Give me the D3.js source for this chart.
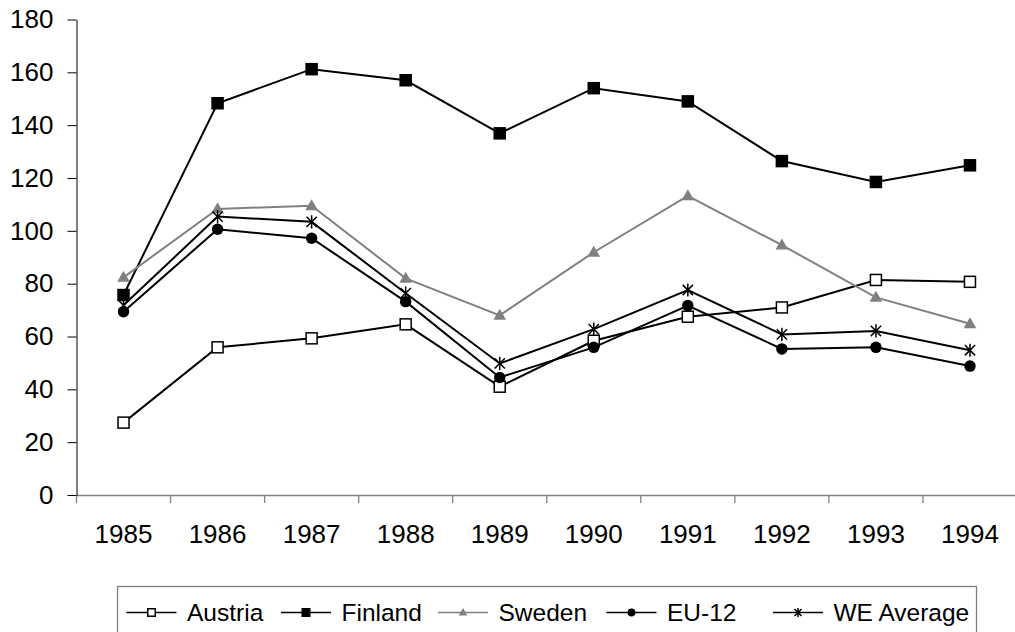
<!DOCTYPE html>
<html><head><meta charset="utf-8">
<script src="https://cdn.jsdelivr.net/npm/d3@7"></script>
<style>body{margin:0;background:#fff;} text{font-family:"Liberation Sans",Arial,sans-serif;}</style>
</head><body>
<svg id="chart" width="1015" height="632"></svg>
<script>
const years = ["1985","1986","1987","1988","1989","1990","1991","1992","1993","1994"];
const austria = [27.4, 55.9, 59.3, 64.6, 41.0, 58.4, 67.5, 71.0, 81.4, 80.7];
const finland = [75.7, 148.3, 161.2, 157.0, 136.9, 154.0, 149.0, 126.4, 118.5, 124.8];
const sweden = [82.4, 108.3, 109.5, 82.0, 68.0, 91.9, 113.2, 94.6, 74.8, 64.8];
const eu12 = [69.4, 100.6, 97.2, 73.2, 44.5, 55.9, 71.7, 55.3, 55.9, 48.8];
const weAvg = [71.8, 105.4, 103.4, 76.4, 49.8, 62.8, 77.6, 60.8, 62.1, 54.8];
const yTicks = [0, 20, 40, 60, 80, 100, 120, 140, 160, 180];
const seriesNames = ["Austria", "Finland", "Sweden", "EU-12", "WE Average"];

const series = [
  {name: seriesNames[0], values: austria, color: "#000", marker: "squareOpen"},
  {name: seriesNames[1], values: finland, color: "#000", marker: "square"},
  {name: seriesNames[2], values: sweden, color: "#808080", marker: "triangle"},
  {name: seriesNames[3], values: eu12, color: "#000", marker: "circle"},
  {name: seriesNames[4], values: weAvg, color: "#000", marker: "star"}
];

const svg = d3.select("#chart");
const x = d3.scaleBand().domain(years).range([76.5, 1017]).padding(0);
const y = d3.scaleLinear().domain([0, 180]).range([495, 19.5]);

// axes
const yAxis = svg.append("g").attr("transform", "translate(76.5,0)")
  .call(d3.axisLeft(y).tickValues(yTicks).tickSize(9).tickPadding(14).tickSizeOuter(0));
yAxis.select(".domain").attr("stroke", "#000").attr("stroke-width", 1);
yAxis.selectAll(".tick line").attr("stroke", "#000");
yAxis.selectAll("text").attr("font-size", 26).attr("fill", "#000")
  .attr("font-family", "Liberation Sans, Arial, sans-serif");

const xAxis = svg.append("g").attr("transform", "translate(0,495)")
  .call(d3.axisBottom(x).tickSize(0).tickPadding(30).tickSizeOuter(0));
xAxis.select(".domain").attr("stroke", "#808080").attr("stroke-width", 1.3);
xAxis.selectAll("text").attr("font-size", 26).attr("fill", "#000")
  .attr("font-family", "Liberation Sans, Arial, sans-serif").attr("dy", "0.71em");
// category boundary ticks
svg.append("g").selectAll("line").data(years).join("line")
  .attr("x1", d => x(d)).attr("x2", d => x(d))
  .attr("y1", 495).attr("y2", 503)
  .attr("stroke", "#808080").attr("stroke-width", 1.3);
yAxis.raise();

const cx = d => x(d) + x.bandwidth() / 2;

function drawMarker(g, type, color, s) {
  if (type === "squareOpen" || type === "square") {
    g.append("rect").attr("x", -s/2).attr("y", -s/2).attr("width", s).attr("height", s)
      .attr("fill", type === "square" ? "#000" : "#fff").attr("stroke", "#000").attr("stroke-width", 1.5);
  } else if (type === "triangle") {
    const w = s * 1.15, h = s * 1.0;
    g.append("path").attr("d", `M0,${-h*0.6}L${w/2},${h*0.4}L${-w/2},${h*0.4}Z`).attr("fill", color);
  } else if (type === "circle") {
    g.append("circle").attr("r", s * 0.52).attr("fill", "#000");
  } else if (type === "star") {
    const r = s * 0.6;
    const d = r * 0.78;
    g.append("path").attr("d", `M0,${-r}L0,${r}M${-d},${-d}L${d},${d}M${-d},${d}L${d},${-d}`)
      .attr("stroke", "#000").attr("stroke-width", 1.5).attr("fill", "none");
  }
}

const line = d3.line().x((d, i) => cx(years[i])).y(d => y(d));
series.forEach(s => {
  const g = svg.append("g");
  g.append("path").datum(s.values).attr("d", line).attr("fill", "none")
    .attr("stroke", s.color).attr("stroke-width", 2);
  s.values.forEach((v, i) => {
    const m = g.append("g").attr("transform", `translate(${cx(years[i])},${y(v)})`);
    drawMarker(m, s.marker, s.color, 11);
  });
});

// legend
const legend = svg.append("g");
legend.append("rect").attr("x", 117.5).attr("y", 586.5).attr("width", 859).attr("height", 60)
  .attr("fill", "#fff").attr("stroke", "#808080").attr("stroke-width", 1.3);
const legendX = [126.5, 281, 438, 606.5, 773];
series.forEach((s, i) => {
  const g = legend.append("g").attr("transform", `translate(${legendX[i]},612.5)`);
  g.append("line").attr("x1", 0).attr("x2", 50).attr("y1", 0).attr("y2", 0)
    .attr("stroke", s.color).attr("stroke-width", 1.5);
  const m = g.append("g").attr("transform", "translate(25,0)");
  drawMarker(m, s.marker, s.color, 7.5);
  g.append("text").attr("x", 60.5).attr("y", 0).attr("dy", "0.35em")
    .attr("font-size", 24.5).attr("fill", "#000").text(s.name);
});
</script>
</body></html>
